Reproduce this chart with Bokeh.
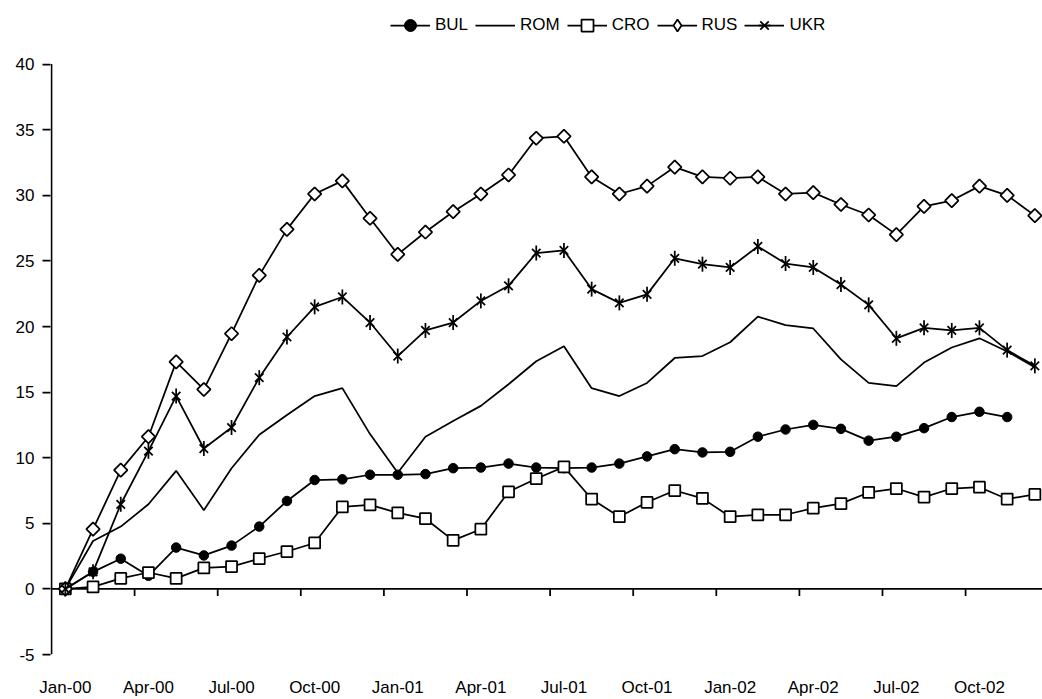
import numpy as np
from bokeh.plotting import figure
from bokeh.models import Legend, LegendItem, FixedTicker
from bokeh.embed import file_html
from bokeh.resources import INLINE

months = ["Jan-00", "Feb-00", "Mar-00", "Apr-00", "May-00", "Jun-00",
          "Jul-00", "Aug-00", "Sep-00", "Oct-00", "Nov-00", "Dec-00",
          "Jan-01", "Feb-01", "Mar-01", "Apr-01", "May-01", "Jun-01",
          "Jul-01", "Aug-01", "Sep-01", "Oct-01", "Nov-01", "Dec-01",
          "Jan-02", "Feb-02", "Mar-02", "Apr-02", "May-02", "Jun-02",
          "Jul-02", "Aug-02", "Sep-02", "Oct-02", "Nov-02", "Dec-02"]
tick_labels = ["Jan-00", "Apr-00", "Jul-00", "Oct-00", "Jan-01", "Apr-01",
               "Jul-01", "Oct-01", "Jan-02", "Apr-02", "Jul-02", "Oct-02"]
y_ticks = [-5, 0, 5, 10, 15, 20, 25, 30, 35, 40]
y_tick_labels = ["-5", "0", "5", "10", "15", "20", "25", "30", "35", "40"]

bul = [0, 1.3, 2.3, 1.0, 3.15, 2.55, 3.3, 4.75, 6.7, 8.3, 8.35, 8.7,
       8.7, 8.75, 9.2, 9.25, 9.55, 9.25, 9.2, 9.25, 9.55, 10.1, 10.65, 10.4,
       10.45, 11.6, 12.15, 12.5, 12.2, 11.3, 11.6, 12.25, 13.1, 13.5, 13.1]
rom = [0, 3.65, 4.75, 6.45, 9.0, 6.0, 9.2, 11.75, 13.25, 14.7, 15.3, 11.8,
       8.85, 11.6, 12.8, 13.95, 15.6, 17.35, 18.5, 15.3, 14.7, 15.7, 17.6, 17.75,
       18.8, 20.75, 20.1, 19.85, 17.5, 15.7, 15.45, 17.25, 18.4, 19.1, 18.1, 16.9]
cro = [0, 0.15, 0.8, 1.25, 0.8, 1.6, 1.7, 2.3, 2.85, 3.5, 6.25, 6.4,
       5.8, 5.35, 3.7, 4.55, 7.4, 8.4, 9.3, 6.85, 5.5, 6.6, 7.5, 6.9,
       5.5, 5.65, 5.65, 6.15, 6.5, 7.35, 7.65, 7.0, 7.65, 7.75, 6.85, 7.2]
rus = [0, 4.55, 9.05, 11.6, 17.3, 15.2, 19.45, 23.9, 27.4, 30.1, 31.1, 28.25,
       25.5, 27.2, 28.75, 30.1, 31.55, 34.35, 34.5, 31.4, 30.1, 30.7, 32.15, 31.4,
       31.3, 31.4, 30.1, 30.2, 29.3, 28.5, 27.0, 29.15, 29.6, 30.7, 30.0, 28.45]
ukr = [0, 1.3, 6.45, 10.5, 14.7, 10.7, 12.3, 16.1, 19.2, 21.5, 22.25, 20.3,
       17.75, 19.7, 20.3, 21.95, 23.1, 25.6, 25.8, 22.85, 21.8, 22.45, 25.2, 24.75,
       24.5, 26.1, 24.8, 24.5, 23.2, 21.65, 19.1, 19.9, 19.7, 19.9, 18.2, 17.0]

FONT = "Liberation Sans"
FS = "17px"
LW = 1.75

W, H = 1042, 699
BOTTOM, LEFT = 45, 50
PX_PER_UNIT = 13.12           # vertical scale (pixels per unit)
PX_PER_CAT = 27.7             # horizontal scale (pixels per month)

y_lo, y_hi = min(y_ticks), max(y_ticks)
frame_h = H - BOTTOM
y_top = y_lo + frame_h / PX_PER_UNIT          # frame extends above the axis top
x_start = -0.5 - 1.0 / PX_PER_CAT
x_end = x_start + (W - LEFT) / PX_PER_CAT

p = figure(width=W, height=H, x_range=(x_start, x_end), y_range=(y_lo, y_top),
           output_backend="svg", toolbar_location=None,
           min_border_left=LEFT, min_border_right=0, min_border_top=0,
           min_border_bottom=BOTTOM)
p.outline_line_color = None
p.xgrid.visible = False
p.ygrid.visible = False
p.background_fill_color = "white"
p.border_fill_color = "white"

# y axis (its line is drawn below so that it stops at the top tick)
p.yaxis.ticker = FixedTicker(ticks=y_ticks)
p.yaxis.major_label_overrides = {t: s for t, s in zip(y_ticks, y_tick_labels)}
p.yaxis.minor_tick_line_color = None
p.yaxis.major_tick_out = 8
p.yaxis.major_tick_in = 0
p.yaxis.axis_line_color = None
p.yaxis.major_tick_line_width = LW
p.yaxis.major_tick_line_color = "black"
p.yaxis.major_label_text_font = FONT
p.yaxis.major_label_text_font_size = FS
p.yaxis.major_label_text_color = "black"
p.yaxis.major_label_standoff = 8
p.segment(x0=[-0.5], y0=[y_lo], x1=[-0.5], y1=[y_hi], line_color="black", line_width=LW)

# x axis: labels only, at the bottom (low position)
label_pos = [months.index(t) for t in tick_labels]
p.xaxis.ticker = FixedTicker(ticks=label_pos)
p.xaxis.major_label_overrides = {i: t for i, t in zip(label_pos, tick_labels)}
p.xaxis.axis_line_color = None
p.xaxis.major_tick_line_color = None
p.xaxis.minor_tick_line_color = None
p.xaxis.major_tick_out = 0
p.xaxis.major_tick_in = 0
p.xaxis.major_label_text_font = FONT
p.xaxis.major_label_text_font_size = FS
p.xaxis.major_label_text_color = "black"
p.xaxis.major_label_standoff = 23

# category axis line crossing at y = 0, ticks between categories
p.segment(x0=[-0.5], y0=[0], x1=[x_end], y1=[0], line_color="black", line_width=LW)
tick_len = 7 / PX_PER_UNIT
tick_x = [i - 0.5 for i in range(3, len(months) + 1, 3)]
p.segment(x0=tick_x, y0=[0] * len(tick_x), x1=tick_x, y1=[-tick_len] * len(tick_x),
          line_color="black", line_width=LW)

x_all = list(range(len(months)))
x_bul = list(range(len(bul)))

bul_l = p.line(x_bul, bul, line_color="black", line_width=LW)
bul_m = p.scatter(x_bul, bul, marker="circle", size=9.5, fill_color="black",
                  line_color="black", line_width=1)

rom_l = p.line(x_all, rom, line_color="black", line_width=LW)

cro_l = p.line(x_all, cro, line_color="black", line_width=LW)
cro_m = p.scatter(x_all, cro, marker="square", size=11, fill_color="white",
                  line_color="black", line_width=LW)

rus_l = p.line(x_all, rus, line_color="black", line_width=LW)
rus_m = p.scatter(x_all, rus, marker="square", angle=np.pi / 4, size=9.5,
                  fill_color="white", line_color="black", line_width=LW)
# legend-only diamond (rotated squares are drawn unrotated inside legends)
rus_key = p.scatter([0], [float("nan")], marker="diamond", size=12,
                    fill_color="white", line_color="black", line_width=LW)

ukr_l = p.line(x_all, ukr, line_color="black", line_width=LW)
ukr_x = p.scatter(x_all, ukr, marker="x", size=12, line_color="black", line_width=LW)
ukr_v = p.scatter(x_all, ukr, marker="dash", angle=np.pi / 2, size=15,
                  line_color="black", line_width=LW)

legend = Legend(items=[
    LegendItem(label="BUL", renderers=[bul_l, bul_m]),
    LegendItem(label="ROM", renderers=[rom_l]),
    LegendItem(label="CRO", renderers=[cro_l, cro_m]),
    LegendItem(label="RUS", renderers=[rus_l, rus_key]),
    LegendItem(label="UKR", renderers=[ukr_l, ukr_x, ukr_v]),
], orientation="horizontal", location=(340, frame_h - 40))
legend.glyph_width = 40
legend.glyph_height = 30
legend.label_standoff = 5
legend.spacing = 7
legend.padding = 0
legend.margin = 0
legend.border_line_color = None
legend.background_fill_alpha = 0
legend.label_text_font = FONT
legend.label_text_font_size = FS
legend.label_text_color = "black"
p.add_layout(legend, "center")

open("out.html", "w").write(file_html(p, INLINE))
